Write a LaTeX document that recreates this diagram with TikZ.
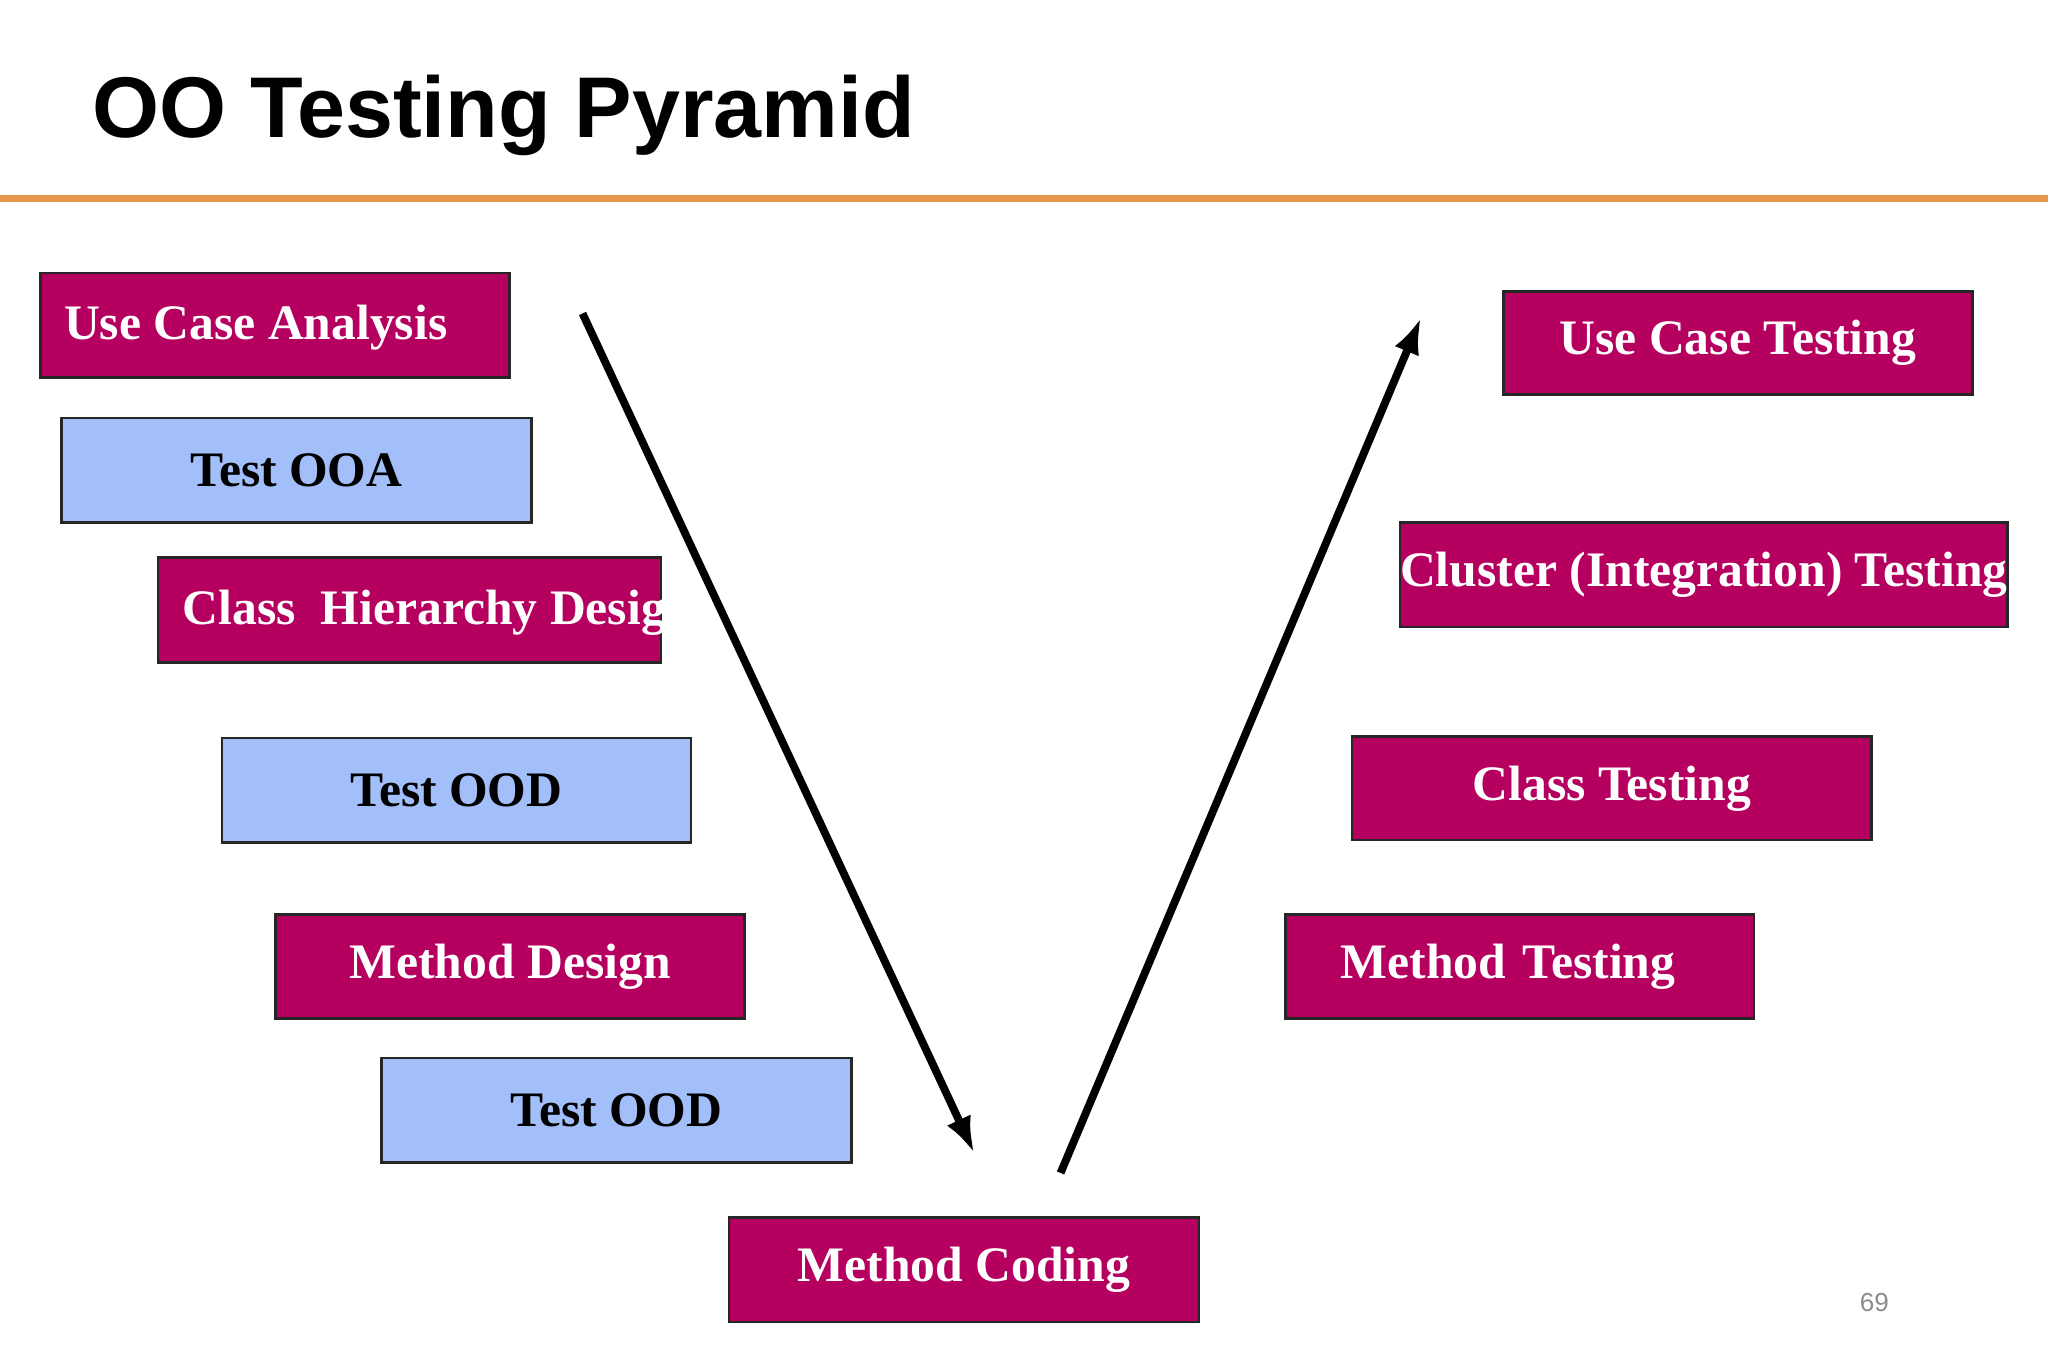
\documentclass[tikz,border=0pt]{standalone}
\usepackage{fontspec}
\setmainfont{Liberation Serif}
\newfontfamily\titlefont{Liberation Sans}
\definecolor{mag}{HTML}{B5005F}
\definecolor{lblue}{HTML}{A3BFFA}
\definecolor{orng}{HTML}{E8964A}
\begin{document}
\begin{tikzpicture}[x=0.5pt,y=-0.5pt,
  box/.style={draw=black!85,line width=1pt,inner sep=0pt,font=\fontsize{19}{22}\selectfont\bfseries},
  mbox/.style={box,fill=mag,text=white},
  bbox/.style={box,fill=lblue,text=black},
  arr/.style={line width=3pt,-{Latex[length=14pt,width=10pt]}}]
\usetikzlibrary{arrows.meta}
\useasboundingbox (0,0) rectangle (1568,1045);
\fill[white] (0,0) rectangle (1568,1045);
\node[anchor=west,font=\titlefont\fontsize{33}{38}\selectfont\bfseries] (title) at (64,88) {OO Testing Pyramid};
\draw[orng,line width=2.5pt] (0,152) -- (1568,152);
% left
\path[mbox] (31,209) rectangle (390,289);
\node[anchor=west,text=white,font=\fontsize{19}{22}\selectfont\bfseries] (uca) at (42,251) {Use Case Analysis};
\node[bbox,minimum width=180pt,minimum height=40pt] (ooa) at (227,360) {Test OOA};
\path[mbox] (121,427) rectangle (506,507);
\node[anchor=west,text=white,font=\fontsize{19}{22}\selectfont\bfseries] (chd) at (133,469) {Class\ \ Hierarchy Design};
\node[bbox,minimum width=179.5pt,minimum height=40pt] (ood1) at (349.5,605) {Test OOD};
\node[mbox,minimum width=179.5pt,minimum height=40pt] (md) at (390.5,740) {Method Design};
\node[bbox,minimum width=180pt,minimum height=40pt] (ood2) at (472,850) {Test OOD};
\node[mbox,minimum width=180pt,minimum height=40pt] (mc) at (738,972) {Method Coding};
% right
\node[mbox,minimum width=179.5pt,minimum height=39.5pt] (uct) at (1330.5,262.5) {Use Case Testing};
\node[mbox,minimum width=231.5pt,minimum height=40pt] (cit) at (1304.5,440) {Cluster (Integration) Testing};
\node[mbox,minimum width=199pt,minimum height=39.5pt] (ct) at (1234,603.5) {Class Testing};
\node[mbox,minimum width=179.5pt,minimum height=40pt,text width=165pt,align=left] (mt) at (1163.5,740) {\hspace*{14pt}Method Testing};
% arrows
\coordinate (a1) at (446,240); \coordinate (a2) at (746,883);
\coordinate (b1) at (812,898); \coordinate (b2) at (1088,243);
\draw[arr] (a1) -- (a2);
\draw[arr] (b1) -- (b2);
\node[text=black!45,font=\fontfamily{lmss}\fontsize{10}{12}\selectfont\titlefont] (pg) at (1435,997) {69};
\end{tikzpicture}
\end{document}
